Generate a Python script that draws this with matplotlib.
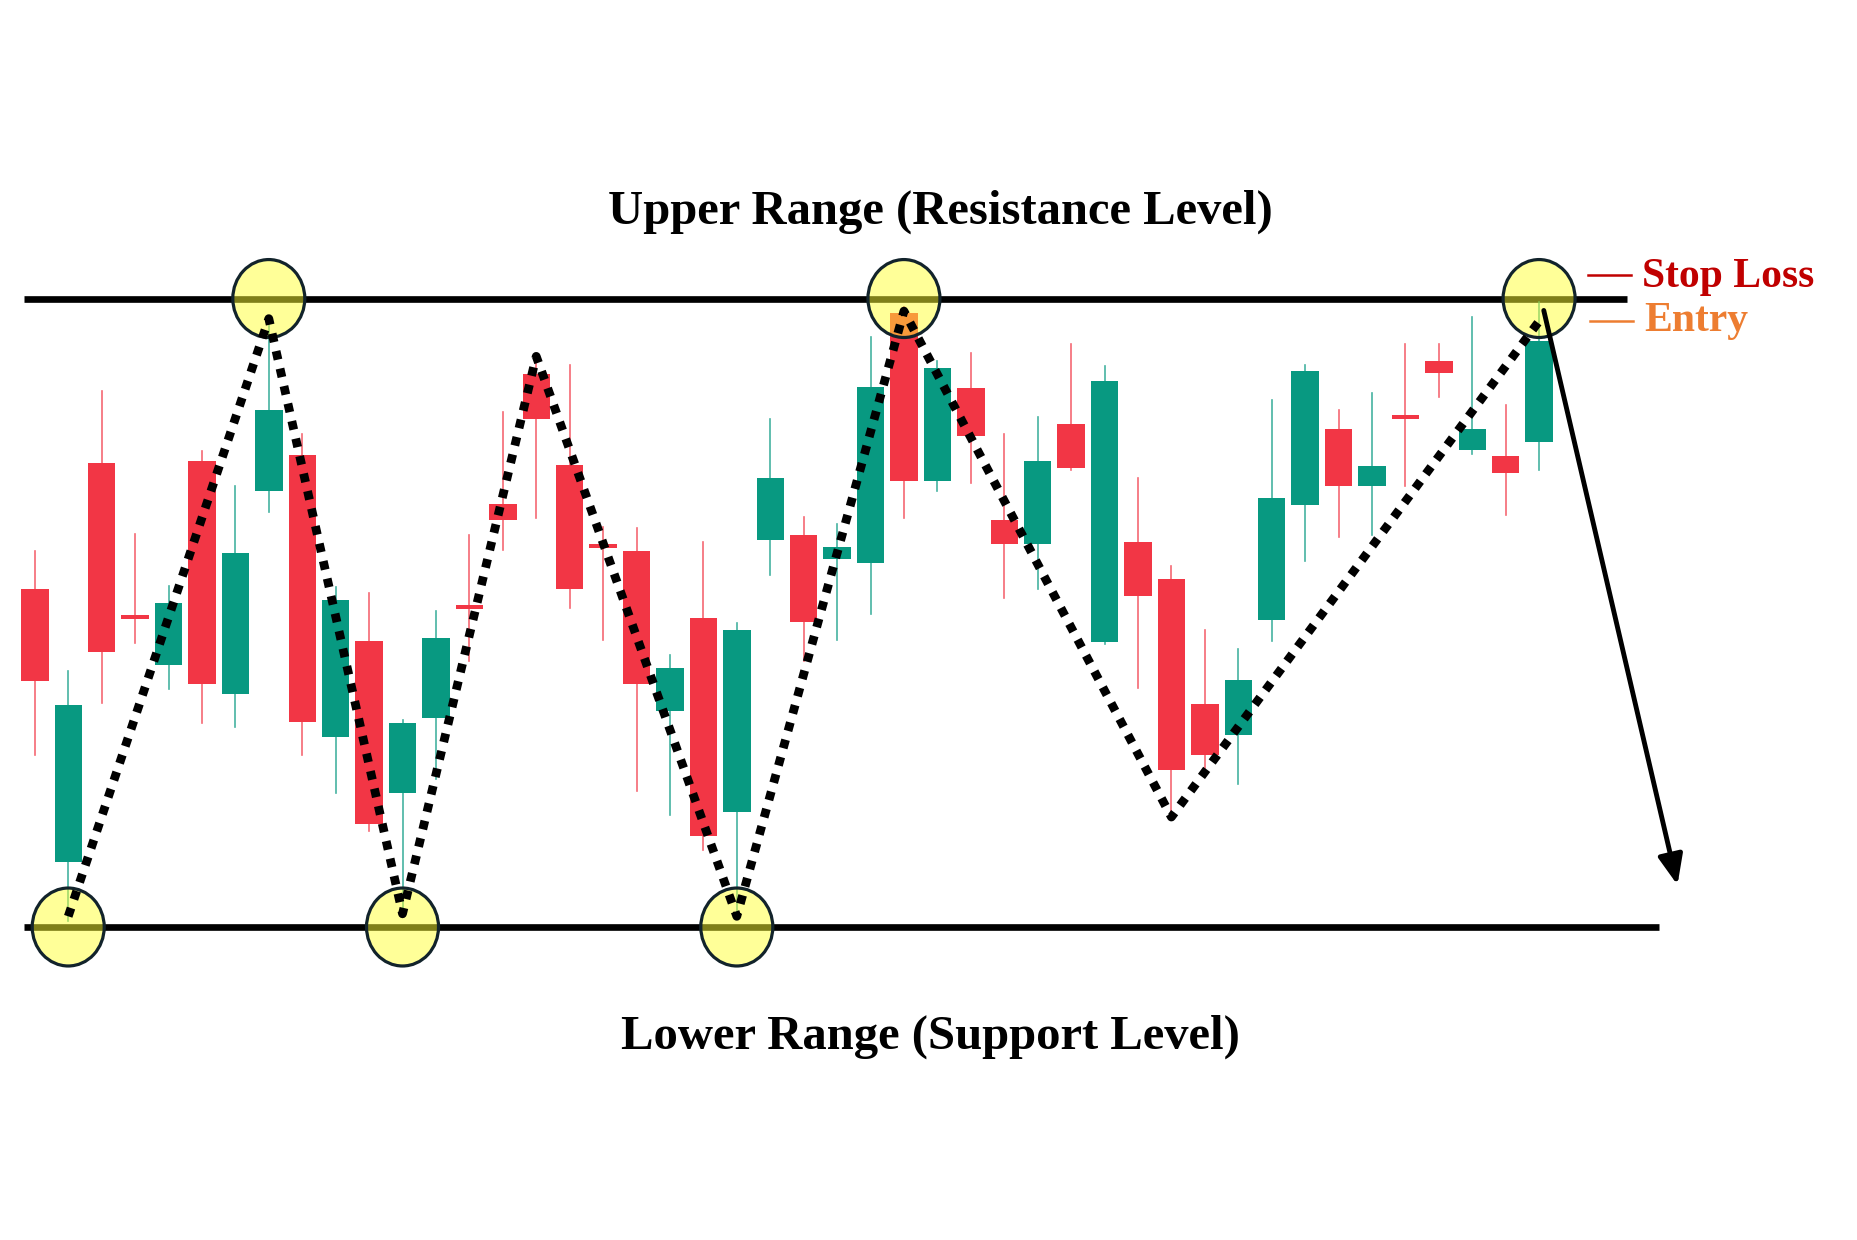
import matplotlib.pyplot as plt
from matplotlib.patches import Rectangle, Ellipse

# candle data (price units: support = 100, resistance = 200)
opens = [153.8, 110.3, 173.9, 149.6, 141.7, 174.1, 137.0, 169.3, 175.1, 130.3,
         145.5, 121.3, 133.3, 151.2, 167.3, 188.0, 173.5, 160.6, 159.8, 134.4,
         149.2, 118.3, 161.5, 162.3, 158.5, 157.9, 197.7, 171.0, 185.8, 164.8,
         161.0, 180.0, 145.3, 161.2, 155.4, 135.5, 130.5, 148.9, 167.2, 179.3,
         170.1, 181.1, 190.1, 175.9, 175.0, 177.2]
highs = [159.8, 140.8, 185.3, 162.6, 154.2, 175.7, 170.1, 197.0, 178.5, 154.1,
         153.2, 132.9, 150.3, 162.4, 181.9, 190.8, 189.4, 163.7, 163.5, 143.3,
         161.2, 148.3, 180.8, 165.2, 164.1, 193.8, 198.6, 190.0, 191.3, 178.5,
         181.1, 192.8, 189.3, 171.5, 157.5, 147.2, 144.2, 183.8, 189.5, 182.3,
         184.9, 192.8, 192.8, 197.1, 183.1, 199.4]
lows = [127.4, 101.0, 135.7, 145.2, 137.9, 132.5, 131.8, 166.1, 127.3, 121.3,
        115.3, 102.5, 123.5, 142.3, 160.0, 165.1, 150.8, 145.7, 121.6, 117.9,
        112.2, 101.7, 156.0, 142.3, 145.6, 149.8, 165.0, 169.3, 170.6, 152.4,
        153.8, 172.7, 145.1, 138.1, 117.5, 125.0, 122.8, 145.5, 158.2, 162.1,
        162.3, 170.1, 184.4, 175.2, 165.6, 172.7]
closes = [139.1, 135.3, 143.8, 149.0, 151.5, 138.6, 159.5, 182.2, 132.7, 152.1,
          116.4, 132.4, 146.0, 150.6, 164.8, 180.8, 153.8, 160.3, 138.7, 141.2,
          114.5, 147.2, 171.5, 148.5, 160.5, 186.0, 171.0, 189.0, 178.2, 160.9,
          174.2, 173.0, 186.8, 152.7, 125.0, 127.3, 139.3, 168.2, 188.4, 170.1,
          173.3, 180.8, 188.1, 179.3, 172.2, 193.2]

support = 100
resistance = 200
stop_loss = 203.7
entry = 196.5

# zigzag swing points (candle index, price)
pivot_idx = [1, 7, 11, 15, 21, 26, 34, 45]
pivot_px = [101.7, 196.8, 102.1, 190.8, 101.7, 198.0, 117.5, 196.4]

touch_support = [1, 11, 21]
touch_resist = [7, 26, 45]

target_idx = 49.14
target_px = 106.7

GREEN = '#089981'
RED = '#f23645'
CIRCLE_FILL = (1, 1, 0.2, 0.5)
CIRCLE_EDGE = '#12232b'

fig = plt.figure(figsize=(18.58, 12.40), dpi=100)
ax = fig.add_axes([0, 0, 1, 1])
ax.set_xlim(-1.041, 54.54)
ax.set_ylim(50.2, 247.5)
ax.axis('off')

# support / resistance
ax.plot([-0.32, 47.63], [resistance, resistance], color='black', lw=4.8,
        solid_capstyle='butt', zorder=1)
ax.plot([-0.32, 48.59], [support, support], color='black', lw=4.8,
        solid_capstyle='butt', zorder=1)

# candles
w = 0.82
for i in range(len(opens)):
    o, h, l, c = opens[i], highs[i], lows[i], closes[i]
    col = GREEN if c >= o else RED
    ax.plot([i, i], [l, h], color=col, lw=1.2, alpha=0.75, zorder=2)
    bottom = min(o, c)
    height = max(abs(c - o), 0.6)
    ax.add_patch(Rectangle((i - w / 2, bottom), w, height, facecolor=col,
                           edgecolor='none', zorder=2))

# touch circles
for i in touch_support:
    ax.add_patch(Ellipse((i, support), 2.154, 12.4, facecolor=CIRCLE_FILL,
                         edgecolor=CIRCLE_EDGE, lw=2.3, zorder=3))
for i in touch_resist:
    ax.add_patch(Ellipse((i, resistance), 2.154, 12.4, facecolor=CIRCLE_FILL,
                         edgecolor=CIRCLE_EDGE, lw=2.3, zorder=3))

# zigzag
zz, = ax.plot(pivot_idx, pivot_px, color='black', lw=6.3, zorder=4,
              dash_capstyle='butt', dash_joinstyle='round')
zz.set_dashes([1, 1.05])

# breakdown arrow
ax.annotate('', xy=(target_idx, target_px), xytext=(45.14, 198.1),
            arrowprops=dict(arrowstyle='-|>,head_length=0.6,head_width=0.25',
                            color='black', lw=3.5,
                            mutation_scale=30, shrinkA=0, shrinkB=0),
            zorder=5)

# stop loss / entry markers
ax.plot([46.46, 47.75], [stop_loss, stop_loss], color='#c00000', lw=1.8)
ax.plot([46.52, 47.80], [entry, entry], color='#ed7d31', lw=1.8)
ax.text(48.09, 201.9, 'Stop Loss', color='#c00000', fontsize=30,
        family='Liberation Serif', weight='bold', ha='left', va='baseline')
ax.text(48.14, 194.8, 'Entry', color='#ed7d31', fontsize=30,
        family='Liberation Serif', weight='bold', ha='left', va='baseline')

ax.text(27.09, 211.9, 'Upper Range (Resistance Level)', fontsize=35,
        family='Liberation Serif', weight='bold', ha='center', va='baseline')
ax.text(26.8, 80.7, 'Lower Range (Support Level)', fontsize=35,
        family='Liberation Serif', weight='bold', ha='center', va='baseline')

fig.savefig('out.png', dpi=100)
